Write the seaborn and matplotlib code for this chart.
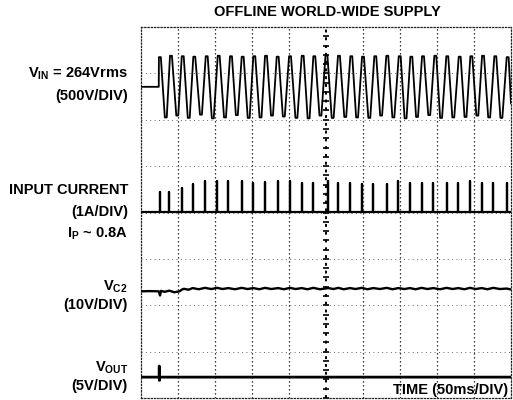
import numpy as np
import pandas as pd
import matplotlib
matplotlib.use("Agg")
import matplotlib.pyplot as plt
import seaborn as sns

# ---------------- data ----------------
# time in ms (10 div x 50 ms/div)
vin_peak_t = [25.5, 40.5, 56.4, 72.0, 88.8, 105.0, 121.6, 137.4, 153.1, 168.9,
              184.7, 201.4, 218.5, 234.2, 250.6, 267.5, 284.2, 300.0, 316.6, 332.8,
              349.6, 365.3, 381.1, 397.7, 413.9, 430.7, 446.4, 462.2, 478.8, 495.5]
vin_peak_v = [320, 335, 330, 325, 330, 335, 330, 325, 330, 335,
              325, 330, 335, 330, 340, 335, 330, 325, 330, 335,
              330, 325, 330, 335, 330, 325, 330, 335, 330, 320]
vin_trough_t = [33.5, 49.0, 64.5, 81.0, 97.0, 113.5, 129.5, 145.5, 161.5, 177.0,
                193.0, 210.0, 226.5, 242.5, 259.0, 276.0, 292.0, 308.5, 324.5, 341.0,
                357.5, 373.0, 389.5, 405.5, 422.0, 438.5, 454.5, 470.5, 487.0]
vin_trough_v = [-330, -310, -335, -300, -340, -330, -305, -335, -330, -310,
                -320, -335, -340, -310, -335, -325, -330, -335, -310, -330,
                -340, -325, -305, -335, -330, -325, -310, -330, -335]
vin_start_t = [0.0, 24.0]          # flat before switch-on
vin_start_v = [0, 0]
vin_end_t = [500.0]
vin_end_v = [-180]

spike_t = [25.7, 38.2, 55.0, 69.9, 86.5, 103.1, 118.0, 136.1, 151.8, 167.6,
           185.5, 201.4, 217.2, 232.8, 253.1, 266.6, 282.4, 298.2, 313.9, 332.0,
           347.7, 363.5, 379.3, 395.0, 413.1, 428.8, 444.6, 460.4, 476.1, 494.2]
spike_a = [0.44, 0.44, 0.52, 0.60, 0.66, 0.67, 0.66, 0.66, 0.63, 0.64,
           0.66, 0.66, 0.63, 0.63, 0.66, 0.63, 0.63, 0.61, 0.61, 0.61,
           0.66, 0.63, 0.63, 0.63, 0.63, 0.63, 0.66, 0.63, 0.63, 0.63]

vc2_t = [0, 12, 24, 25.7, 27, 32, 38.2, 45, 52, 55.0, 58, 64, 69.9, 78, 86.5,
         95, 103.1, 110, 118.0, 127, 136.1, 144, 151.8, 160, 167.6, 176, 185.5,
         193, 201.4, 209, 217.2, 225, 232.8, 242, 253.1, 260, 266.6, 274, 282.4,
         290, 298.2, 306, 313.9, 323, 332.0, 340, 347.7, 356, 363.5, 371, 379.3,
         387, 395.0, 404, 413.1, 421, 428.8, 437, 444.6, 452, 460.4, 468, 476.1,
         485, 494.2, 500]
vc2_v = [0.0, 0.05, 0.0, -0.9, 0.1, -0.1, 0.15, -0.2, 0.0, 0.35, 0.55, 0.35, 0.7,
         0.45, 0.75, 0.5, 0.75, 0.5, 0.7, 0.45, 0.75, 0.5, 0.7, 0.45, 0.75, 0.5,
         0.7, 0.45, 0.75, 0.5, 0.7, 0.45, 0.75, 0.45, 0.7, 0.5, 0.75, 0.45, 0.7,
         0.5, 0.75, 0.45, 0.7, 0.5, 0.75, 0.45, 0.7, 0.5, 0.7, 0.45, 0.75, 0.5,
         0.7, 0.45, 0.75, 0.5, 0.7, 0.45, 0.75, 0.5, 0.7, 0.45, 0.75, 0.5, 0.6, 0.4]

vout_t = [0, 24.5, 24.7, 24.9, 25.2, 500]
vout_v = [0, 0, 1.2, -0.35, 0, 0]

# channel scales (units per division) and screen reference positions (div)
scale = {"vin": 500.0, "cur": 1.0, "vc2": 10.0, "vout": 5.0}
pos = {"vin": 6.71, "cur": 4.01, "vc2": 2.30, "vout": 0.45}
DWELL = 1.3   # ms: half-width of the flattened crest/trough drawn on screen

# ---------------- build traces ----------------
vt, vv = list(vin_start_t), list(vin_start_v)
for i in range(len(vin_peak_t)):
    vt += [vin_peak_t[i] - DWELL, vin_peak_t[i] + DWELL]
    vv += [vin_peak_v[i], vin_peak_v[i]]
    if i < len(vin_trough_t):
        vt += [vin_trough_t[i] - DWELL, vin_trough_t[i] + DWELL]
        vv += [vin_trough_v[i], vin_trough_v[i]]
vt += vin_end_t; vv += vin_end_v

ct, cv = [0.0], [0.0]
for t, a in zip(spike_t, spike_a):
    ct += [t, t, t]
    cv += [0.0, a, 0.0]
ct.append(500.0); cv.append(0.0)

frames = []
for name, t, v in [("vin", vt, vv), ("cur", ct, cv), ("vc2", vc2_t, vc2_v),
                   ("vout", vout_t, vout_v)]:
    df = pd.DataFrame({"t": t, "v": v})
    df["y"] = pos[name] + df["v"] / scale[name]
    df["ch"] = name
    frames.append(df)

# ---------------- figure ----------------
sns.set_theme(style="white")
plt.rcParams["font.family"] = ["Liberation Sans", "DejaVu Sans"]
plt.rcParams["mathtext.fontset"] = "custom"
plt.rcParams["mathtext.rm"] = "Liberation Sans:bold"
plt.rcParams["mathtext.bf"] = "Liberation Sans:bold"

W, H = 513, 400
fig = plt.figure(figsize=(W / 100, H / 100), dpi=100)
ax = fig.add_axes([141 / W, 2 / H, 370 / W, 371 / H])
ax.set_xlim(0, 500)
ax.set_ylim(0, 8)

# graticule
for k in range(1, 10):
    if k == 5:
        continue
    ax.axvline(k * 50, color="black", lw=0.9, ls=(0, (1, 2.2)), zorder=1)
for k in range(1, 8):
    ax.axhline(k, color="#666666", lw=0.7, ls=(0, (1, 3.5)), zorder=1)
ax.axvline(250, color="black", lw=1.4, ls=(0, (1.5, 2.5)), zorder=1)
ax.plot([250] * 40, [0.2 * k for k in range(40)], ls="none", marker="_",
        ms=5, mew=1.2, color="black", zorder=1)

lw = {"vin": 1.3, "cur": 1.6, "vc2": 1.7, "vout": 2.0}
for df in frames:
    name = df["ch"].iloc[0]
    sns.lineplot(data=df, x="t", y="y", sort=False, estimator=None,
                 color="black", lw=lw[name], ax=ax, zorder=3)

ax.set_xticks([]); ax.set_yticks([])
ax.set_xlabel(""); ax.set_ylabel("")
for s in ax.spines.values():
    s.set_linestyle((0, (1, 1.6)))
    s.set_linewidth(0.9)
    s.set_color("#222222")

def ftext(x, y, s, ha="right", size=10.5):
    fig.text(x / W, 1 - y / H, s, ha=ha, va="center", fontsize=size,
             fontweight="bold", color="black")

ftext(327, 12, "OFFLINE WORLD-WIDE SUPPLY", ha="center", size=10.5)
ftext(128, 74, r"V$_{\mathrm{IN}}$ = 264Vrms")
ftext(128, 96, "(500V/DIV)")
ftext(128, 190, "INPUT CURRENT")
ftext(128, 212, "(1A/DIV)")
ftext(128, 234, r"I$_{\mathrm{P}}$ ~ 0.8A")
ftext(128, 287, r"V$_{\mathrm{C2}}$")
ftext(128, 305, "(10V/DIV)")
ftext(128, 368, r"V$_{\mathrm{OUT}}$")
ftext(128, 386, "(5V/DIV)")
ftext(508, 390, "TIME (50ms/DIV)")

fig.savefig("out.png", dpi=100, facecolor="white")
